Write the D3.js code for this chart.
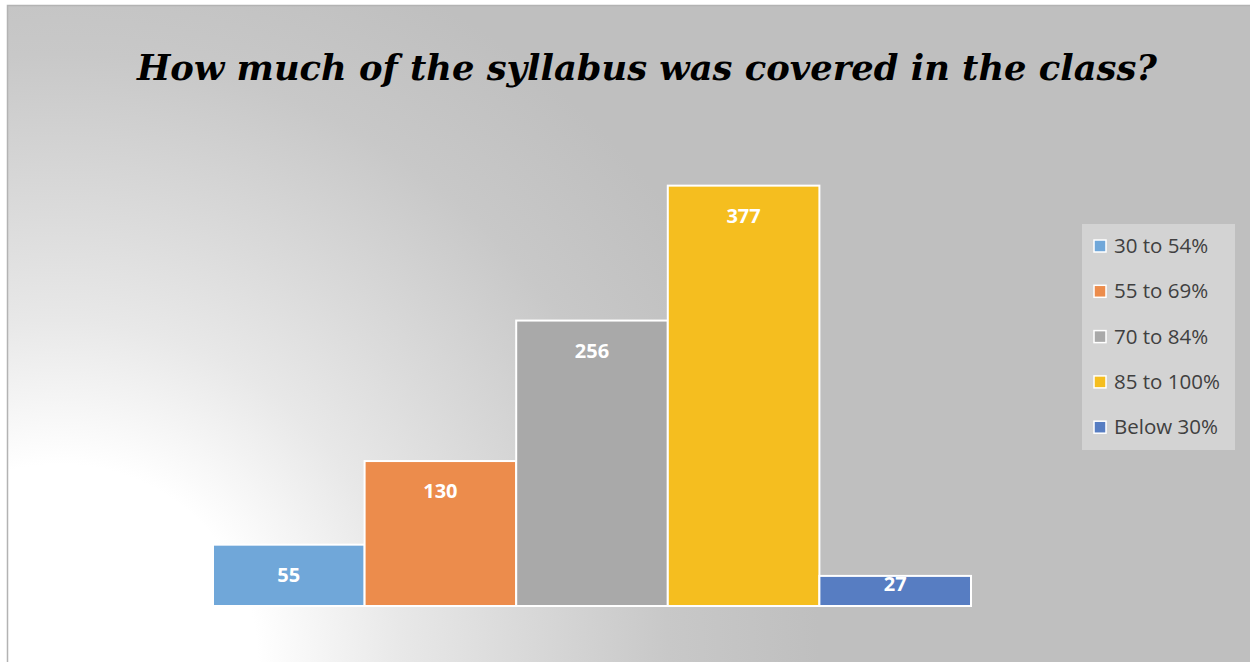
<!DOCTYPE html>
<html><head><meta charset="utf-8">
<script src="https://cdn.jsdelivr.net/npm/d3@7"></script>
<style>html,body{margin:0;padding:0;background:#fff;}svg{display:block;}</style>
</head><body>
<script>
const categories = ["30 to 54%", "55 to 69%", "70 to 84%", "85 to 100%", "Below 30%"];
const values = [55, 130, 256, 377, 27];
const colors = ["#70a7d9", "#ec8c4c", "#a9a9a9", "#f5be1f", "#577dc2"];
const title = "How much of the syllabus was covered in the class?";

const W = 1250, H = 662;
const svg = d3.select("body").append("svg").attr("width", W).attr("height", H);
const defs = svg.append("defs");
const g = defs.append("radialGradient").attr("id", "bg").attr("gradientUnits", "userSpaceOnUse")
  .attr("cx", 60).attr("cy", 662).attr("r", 760);
[[0, "#ffffff"], [0.26, "#ffffff"], [0.45, "#e8e8e8"], [0.59, "#dbdbdb"], [0.8, "#c8c8c8"], [1, "#bfbfbf"]]
  .forEach(([o, c]) => g.append("stop").attr("offset", o).attr("stop-color", c));

svg.append("rect").attr("x", 7.5).attr("y", 5.5).attr("width", 1260).attr("height", 680)
  .attr("fill", "url(#bg)").attr("stroke", "#b3b3b3").attr("stroke-width", 1.5);

svg.append("text").attr("x", 647).attr("y", 80).attr("text-anchor", "middle")
  .attr("font-family", "'DejaVu Serif', 'Liberation Serif', serif")
  .attr("font-weight", "bold").attr("font-style", "italic").attr("font-size", 36)
  .attr("textLength", 1020).attr("lengthAdjust", "spacingAndGlyphs")
  .attr("fill", "#000").text(title);

const x = d3.scaleBand().domain(categories).range([213, 971]).padding(0);
const y = d3.scaleLinear().domain([0, 400]).range([606, 160]);

svg.append("g").selectAll("rect").data(values).join("rect")
  .attr("x", (d, i) => x(categories[i]))
  .attr("y", d => y(d))
  .attr("width", x.bandwidth())
  .attr("height", d => y(0) - y(d))
  .attr("fill", (d, i) => colors[i])
  .attr("stroke", "#ffffff").attr("stroke-width", 2);

svg.append("g").selectAll("text").data(values).join("text")
  .attr("x", (d, i) => x(categories[i]) + x.bandwidth() / 2)
  .attr("y", d => Math.min(y(d) + 37, y(0) - 15))
  .attr("text-anchor", "middle")
  .attr("font-family", "'Open Sans', 'Liberation Sans', sans-serif")
  .attr("font-weight", "bold").attr("font-size", 20).attr("fill", "#fff")
  .text(d => d);

const lg = svg.append("g");
lg.append("rect").attr("x", 1082).attr("y", 224).attr("width", 153).attr("height", 226).attr("fill", "#d3d3d3");
categories.forEach((c, i) => {
  const cy = 246 + i * 45.3;
  lg.append("rect").attr("x", 1094).attr("y", cy - 6).attr("width", 12).attr("height", 12)
    .attr("fill", colors[i]).attr("stroke", "#fff").attr("stroke-width", 1.5);
  lg.append("text").attr("x", 1114).attr("y", cy + 7)
    .attr("font-family", "'Open Sans', 'Liberation Sans', sans-serif")
    .attr("font-size", 20.5).attr("fill", "#404040").text(c);
});
</script>
</body></html>
